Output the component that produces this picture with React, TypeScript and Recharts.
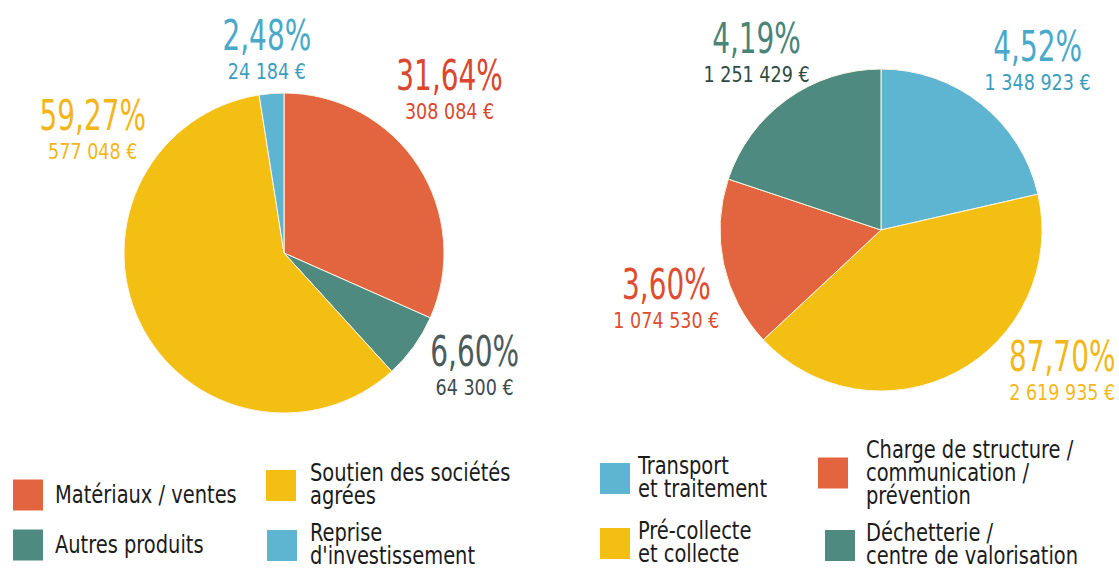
import { PieChart, Pie, Cell } from "recharts";

// Recettes (left) et dépenses (right) — values as printed on the source
const LEFT_CATEGORIES = ["Matériaux / ventes", "Autres produits", "Soutien des sociétés\nagrées", "Reprise\nd'investissement"];
const LEFT_AMOUNTS = [308084, 64300, 577048, 24184];
const LEFT_PCT = [31.64, 6.6, 59.27, 2.48];

const RIGHT_CATEGORIES = ["Transport\net traitement", "Pré-collecte\net collecte", "Charge de structure /\ncommunication /\nprévention", "Déchetterie /\ncentre de valorisation"];
const RIGHT_AMOUNTS = [1348923, 2619935, 1074530, 1251429];
const RIGHT_PCT = [4.52, 87.7, 3.6, 4.19]; // as printed (they don't add up, kept anyway)

const LEFT_COLORS = ["#E2653F", "#4F8A80", "#F3BF13", "#5DB5D2"];
const RIGHT_COLORS = ["#5DB5D2", "#F3BF13", "#E2653F", "#4F8A80"];

// label text colours (big %, small €)
const LEFT_TEXT = [["#D9472F", "#D9472F"], ["#4C5B5A", "#3E4A49"], ["#F2B51A", "#F2B51A"], ["#4AA9C9", "#3C9CBC"]];
const RIGHT_TEXT = [["#4AA9C9", "#3C9CBC"], ["#F2B81A", "#F2B81A"], ["#DE4D30", "#DE4D30"], ["#4A8577", "#2F4A45"]];

// label placement around each pie: [angle°, distance from centre]
const LEFT_LABEL_POS = [[44.7, 233], [-30.4, 221], [147, 228], [94.8, 205]];
const RIGHT_LABEL_POS = [[47.3, 231], [-37.7, 229], [197.5, 225], [125, 217]];

const FONT = "'DejaVu Sans Condensed', 'DejaVu Sans', sans-serif";

const pct = (v: number) => v.toFixed(2).replace(".", ",") + "%";
const eur = (v: number) => String(v).replace(/\B(?=(\d{3})+(?!\d))/g, " ") + " €";

function makeLabel(pos: number[][], colors: string[][], pcts: number[]) {
  return (props: any) => {
    const { cx, cy, index, value } = props;
    const [a, d] = pos[index];
    const rad = (a * Math.PI) / 180;
    const x = cx + d * Math.cos(rad);
    const y = cy - d * Math.sin(rad);
    return (
      <g>
        <text
          transform={`translate(${x},${y + 1}) scale(0.74,1)`}
          textAnchor="middle"
          fontFamily={FONT}
          fontSize={42}
          fill={colors[index][0]}
        >
          {pct(pcts[index])}
        </text>
        <text
          transform={`translate(${x},${y + 30}) scale(0.93,1)`}
          textAnchor="middle"
          fontFamily={FONT}
          fontSize={21}
          fill={colors[index][1]}
        >
          {eur(value)}
        </text>
      </g>
    );
  };
}

// legend: [square left, centre y, gap]
const LEFT_LEGEND_POS = [[13, 495, 12], [13, 545, 12], [266, 485, 14], [267, 545, 13]];
const RIGHT_LEGEND_POS = [[600, 478, 8], [600, 543, 8], [818, 473, 18], [825, 545, 11]];

function LegendItems({ names, colors, pos }: { names: string[]; colors: string[]; pos: number[][] }) {
  return (
    <>
      {names.map((n, i) => (
        <div
          key={n}
          style={{
            position: "absolute",
            left: pos[i][0],
            top: pos[i][1],
            transform: "translateY(-50%)",
            display: "flex",
            alignItems: "center",
            gap: pos[i][2],
          }}
        >
          <div style={{ width: 30, height: 31, background: colors[i], flex: "none" }} />
          <div
            style={{
              fontFamily: FONT,
              fontSize: 24,
              lineHeight: "23px",
              color: "#1b1b1b",
              whiteSpace: "pre",
              transform: "scaleX(0.9)",
              transformOrigin: "left center",
            }}
          >
            {n}
          </div>
        </div>
      ))}
    </>
  );
}

export default function App() {
  const left = LEFT_CATEGORIES.map((name, i) => ({ name, value: LEFT_AMOUNTS[i] }));
  const right = RIGHT_CATEGORIES.map((name, i) => ({ name, value: RIGHT_AMOUNTS[i] }));

  return (
    <div style={{ position: "absolute", left: 0, top: 0, width: 1119, height: 569, background: "#fff", overflow: "hidden" }}>
      <PieChart width={1119} height={569} margin={{ top: 0, right: 0, bottom: 0, left: 0 }}>
        <Pie
          data={left}
          dataKey="value"
          cx={284}
          cy={253}
          outerRadius={160}
          startAngle={90}
          endAngle={-270}
          stroke="#fdf6e6"
          strokeWidth={1}
          labelLine={false}
          label={makeLabel(LEFT_LABEL_POS, LEFT_TEXT, LEFT_PCT)}
          isAnimationActive={false}
        >
          {left.map((d, i) => (
            <Cell key={d.name} fill={LEFT_COLORS[i]} />
          ))}
        </Pie>
        <Pie
          data={right}
          dataKey="value"
          cx={881}
          cy={230}
          outerRadius={161}
          startAngle={90}
          endAngle={-270}
          stroke="#fdf6e6"
          strokeWidth={1}
          labelLine={false}
          label={makeLabel(RIGHT_LABEL_POS, RIGHT_TEXT, RIGHT_PCT)}
          isAnimationActive={false}
        >
          {right.map((d, i) => (
            <Cell key={d.name} fill={RIGHT_COLORS[i]} />
          ))}
        </Pie>
      </PieChart>
      <LegendItems names={LEFT_CATEGORIES} colors={LEFT_COLORS} pos={LEFT_LEGEND_POS} />
      <LegendItems names={RIGHT_CATEGORIES} colors={RIGHT_COLORS} pos={RIGHT_LEGEND_POS} />
    </div>
  );
}
